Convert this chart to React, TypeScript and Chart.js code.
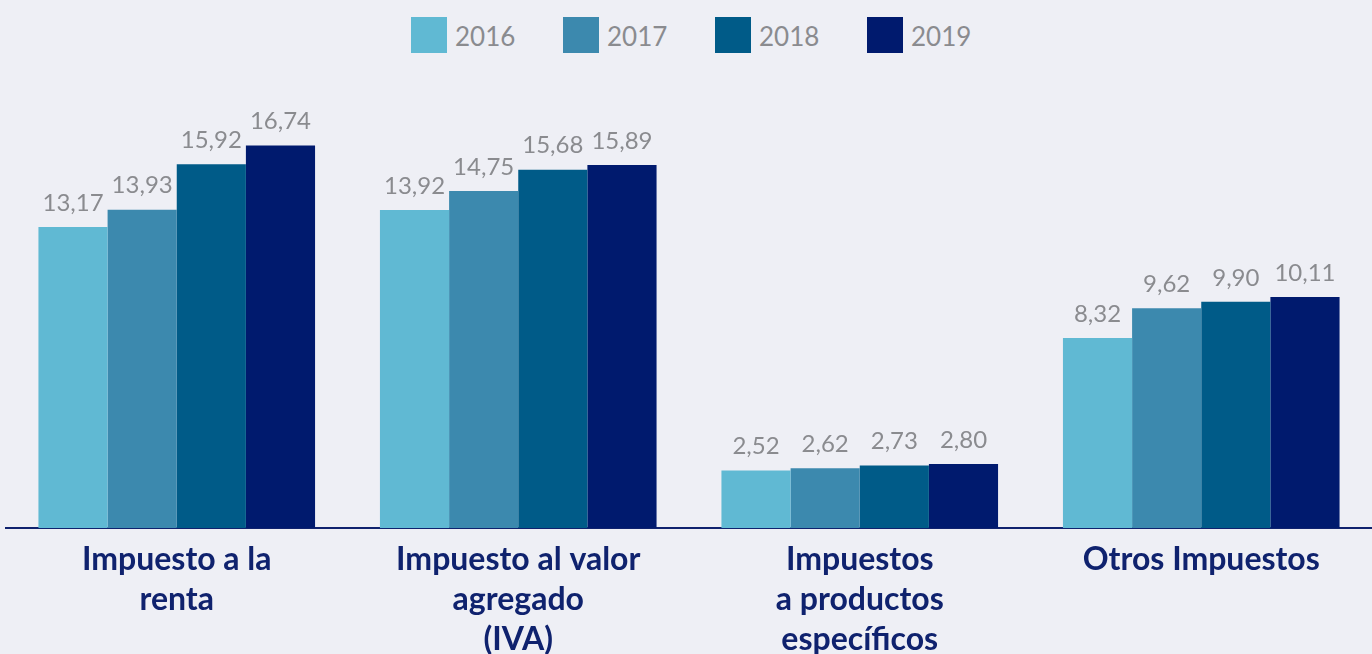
import React, { useEffect, useRef } from "react";
import { Chart, registerables } from "chart.js";

Chart.register(...registerables);

const categories: string[][] = [
  ["Impuesto a la", "renta"],
  ["Impuesto al valor", "agregado", "(IVA)"],
  ["Impuestos", "a productos", "específicos"],
  ["Otros Impuestos"],
];
const years = ["2016", "2017", "2018", "2019"];
const values2016 = [13.17, 13.92, 2.52, 8.32];
const values2017 = [13.93, 14.75, 2.62, 9.62];
const values2018 = [15.92, 15.68, 2.73, 9.9];
const values2019 = [16.74, 15.89, 2.8, 10.11];
const seriesValues = [values2016, values2017, values2018, values2019];
const colors = ["#60B9D3", "#3C89AE", "#005B88", "#001A6E"];

const BG = "#EEEFF5";
const NAVY = "#0F226E";
const GRAY = "#8A8B8F";

const valueLabels = {
  id: "valueLabels",
  afterDatasetsDraw(chart: any) {
    const ctx = chart.ctx;
    ctx.save();
    ctx.fillStyle = GRAY;
    ctx.font = "24px Lato";
    ctx.textAlign = "center";
    ctx.textBaseline = "bottom";
    chart.data.datasets.forEach((ds: any, i: number) => {
      const meta = chart.getDatasetMeta(i);
      meta.data.forEach((el: any, j: number) => {
        const v = ds.data[j] as number;
        ctx.fillText(v.toFixed(2).replace(".", ","), el.x, el.y - 12);
      });
    });
    ctx.restore();
  },
};

export default function App() {
  const ref = useRef<HTMLCanvasElement>(null);
  useEffect(() => {
    if (!ref.current) return;
    const chart = new Chart(ref.current, {
      type: "bar",
      data: {
        labels: categories as any,
        datasets: years.map((y, i) => ({
          label: y,
          data: seriesValues[i],
          backgroundColor: colors[i],
          borderWidth: 0,
          categoryPercentage: 0.81,
          barPercentage: 1,
        })),
      },
      options: {
        animation: false,
        responsive: false,
        maintainAspectRatio: false,
        layout: { padding: { top: 71, left: 6, right: -4, bottom: 0 } },
        plugins: {
          legend: { display: false },
          tooltip: { enabled: false },
        },
        scales: {
          x: {
            grid: { display: false, drawTicks: false },
            border: { display: true, color: NAVY, width: 2 },
            ticks: {
              autoSkip: false,
              maxRotation: 0,
              minRotation: 0,
              padding: 12,
              color: NAVY,
              font: { family: "Lato", weight: "bold", size: 32, lineHeight: 40 / 32 },
            },
          },
          y: {
            display: false,
            min: 0,
            max: 20,
          },
        },
      },
      plugins: [valueLabels],
    });
    return () => chart.destroy();
  }, []);

  return (
    <div
      style={{
        position: "fixed",
        left: 0,
        top: 0,
        width: 1372,
        height: 654,
        background: BG,
        overflow: "hidden",
      }}
    >
      <div
        style={{
          position: "absolute",
          top: 15,
          left: 0,
          width: 1372,
          display: "flex",
          justifyContent: "center",
          paddingLeft: 8,
          boxSizing: "border-box",
        }}
      >
        {years.map((y, i) => (
          <div key={y} style={{ display: "flex", alignItems: "center", marginRight: i < 3 ? 50 : 0 }}>
            <div style={{ width: 36, height: 36, background: colors[i] }} />
            <span
              style={{
                fontFamily: "Lato",
                fontSize: 26,
                color: GRAY,
                marginLeft: 8,
                width: 58,
                lineHeight: "36px",
                paddingTop: 3,
              }}
            >
              {y}
            </span>
          </div>
        ))}
      </div>
      <canvas ref={ref} width={1372} height={672} style={{ position: "absolute", left: 0, top: 0 }} />
    </div>
  );
}
